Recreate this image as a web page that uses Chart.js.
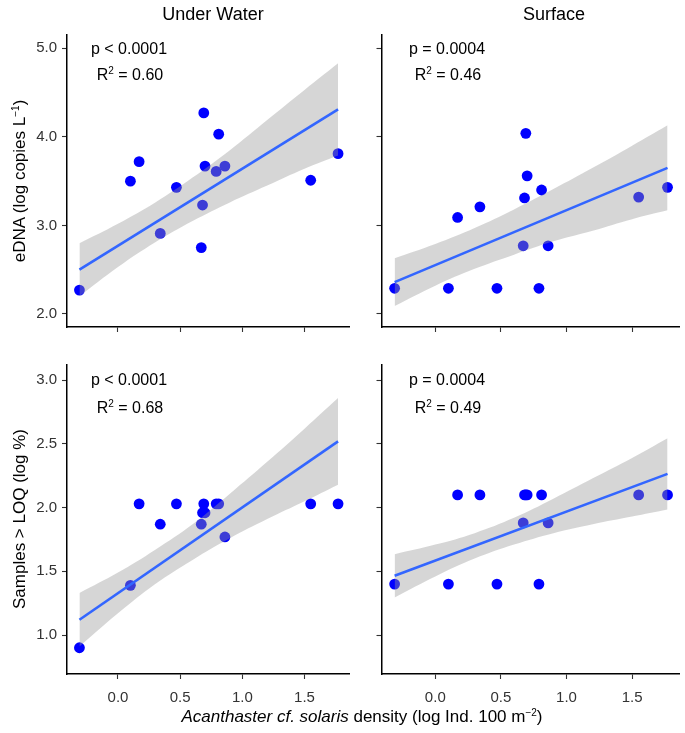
<!DOCTYPE html>
<html>
<head>
<meta charset="utf-8">
<script src="https://cdn.jsdelivr.net/npm/chart.js@4.4.1/dist/chart.umd.min.js"></script>
<style>
  body { margin: 0; background: #fff; }
  #page { position: relative; width: 685px; height: 733px; font-family: "Liberation Sans", Arial, sans-serif; color: #000; }
  #page canvas { position: absolute; left: 0; top: 0; }
  .txt { position: absolute; white-space: nowrap; line-height: 1; transform: translate(-50%, -50%); }
  .strip { font-size: 18px; }
  .stat { font-size: 16px; }
  .stat sup, .axis sup { font-size: 10px; vertical-align: 6px; }
  .axis { font-size: 17px; }
  .ylab { transform: translate(-50%, -50%) rotate(-90deg); }
</style>
</head>
<body>
<div id="page">
  <canvas id="panelTL" width="685" height="733"></canvas>
  <canvas id="panelTR" width="685" height="733"></canvas>
  <canvas id="panelBL" width="685" height="733"></canvas>
  <canvas id="panelBR" width="685" height="733"></canvas>

  <div class="txt strip" style="left:213px; top:14px;">Under Water</div>
  <div class="txt strip" style="left:554px; top:14px;">Surface</div>

  <div class="txt stat" style="left:129px; top:49px;">p &lt; 0.0001</div>
  <div class="txt stat" style="left:130px; top:74px;">R<sup>2</sup> = 0.60</div>
  <div class="txt stat" style="left:447px; top:49px;">p = 0.0004</div>
  <div class="txt stat" style="left:448px; top:74px;">R<sup>2</sup> = 0.46</div>
  <div class="txt stat" style="left:129px; top:380px;">p &lt; 0.0001</div>
  <div class="txt stat" style="left:130px; top:407px;">R<sup>2</sup> = 0.68</div>
  <div class="txt stat" style="left:447px; top:380px;">p = 0.0004</div>
  <div class="txt stat" style="left:448px; top:407px;">R<sup>2</sup> = 0.49</div>

  <div class="txt axis ylab" style="left:19px; top:181px;">eDNA (log copies L<sup>&minus;1</sup>)</div>
  <div class="txt axis ylab" style="left:19px; top:519px;">Samples &gt; LOQ (log %)</div>
  <div class="txt axis" style="left:362px; top:716px;"><i>Acanthaster cf. solaris</i> density (log Ind. 100 m<sup>&minus;2</sup>)</div>
</div>

<script>
// site densities (shared by all four panels)
const density = [-0.31, 0.10, 0.17, 0.34, 0.47, 0.67, 0.68, 0.69, 0.70, 0.79, 0.81, 0.86, 1.55, 1.77];

const ednaUnder = [2.27, 3.50, 3.72, 2.91, 3.43, 2.75, 3.23, 4.27, 3.67, 3.61, 4.03, 3.67, 3.51, 3.81];
const ednaSurface = [2.29, 2.29, 3.09, 3.21, 2.29, 2.77, 3.31, 4.04, 3.56, 2.29, 3.40, 2.77, 3.32, 3.43];
const loqUnder = [0.90, 1.39, 2.03, 1.87, 2.03, 1.87, 1.96, 2.03, 1.96, 2.03, 2.03, 1.77, 2.03, 2.03];
const loqSurface = [1.40, 1.40, 2.10, 2.10, 1.40, 1.88, 2.10, 2.10, 2.10, 1.40, 2.10, 1.88, 2.10, 2.10];

// regression line ends
const lineX = [-0.31, 1.77];
const ednaUnderFit = [2.50, 4.31];
const ednaSurfaceFit = [2.36, 3.65];
const loqUnderFit = [1.12, 2.52];
const loqSurfaceFit = [1.465, 2.265];

// confidence band edges read at these x positions
const bandX = [-0.31, 0.0, 0.3, 0.6, 0.9, 1.2, 1.5, 1.77];
const ednaUnderHi = [2.80, 3.02, 3.26, 3.54, 3.85, 4.19, 4.53, 4.83];
const ednaUnderLo = [2.20, 2.53, 2.81, 3.05, 3.26, 3.45, 3.64, 3.79];
const ednaSurfaceHi = [2.63, 2.79, 2.97, 3.18, 3.41, 3.65, 3.90, 4.13];
const ednaSurfaceLo = [2.09, 2.32, 2.51, 2.67, 2.82, 2.94, 3.07, 3.17];
const loqUnderHi = [1.33, 1.49, 1.67, 1.87, 2.11, 2.36, 2.62, 2.86];
const loqUnderLo = [0.91, 1.17, 1.40, 1.59, 1.76, 1.91, 2.05, 2.18];
const loqSurfaceHi = [1.635, 1.71, 1.80, 1.92, 2.07, 2.23, 2.39, 2.545];
const loqSurfaceLo = [1.295, 1.46, 1.60, 1.71, 1.80, 1.87, 1.93, 1.985];

const xTicks = [0, 0.5, 1, 1.5];
const ednaTicks = [2, 3, 4, 5];
const loqTicks = [1, 1.5, 2, 2.5, 3];

Chart.defaults.font.family = '"Liberation Sans", Arial, sans-serif';
Chart.defaults.font.size = 15;
Chart.defaults.color = '#333';

function pts(xs, ys) {
    return xs.map((x, i) => ({ x: x, y: ys[i] }));
}

function axisStyle(extra) {
    return Object.assign({
        type: 'linear',
        grid: { drawOnChartArea: false, drawTicks: true, tickLength: 5, tickColor: '#333', tickWidth: 1.1 },
        border: { display: true, color: '#000', width: 1.5 }
    }, extra);
}

function makePanel(id, box, p) {
    const yAxisW = box.yLabels ? 40 : 6;
    const xAxisH = box.xLabels ? 30 : 6;

    new Chart(document.getElementById(id), {
        type: 'line',
        data: {
            datasets: [
                {
                    data: pts(density, p.points),
                    showLine: false,
                    pointRadius: 5.4,
                    pointBackgroundColor: '#0000ff',
                    pointBorderWidth: 0,
                    order: 3
                },
                {
                    data: pts(bandX, p.hi),
                    borderWidth: 0,
                    pointRadius: 0,
                    tension: 0.4,
                    fill: false,
                    order: 2
                },
                {
                    data: pts(bandX, p.lo),
                    borderWidth: 0,
                    pointRadius: 0,
                    tension: 0.4,
                    fill: '-1',
                    backgroundColor: 'rgba(153, 153, 153, 0.4)',
                    order: 2
                },
                {
                    data: pts(lineX, p.fit),
                    borderColor: '#3366ff',
                    borderWidth: 2.6,
                    pointRadius: 0,
                    order: 1
                }
            ]
        },
        options: {
            responsive: false,
            animation: false,
            events: [],
            layout: {
                padding: {
                    left: box.left - yAxisW,
                    right: 685 - box.right,
                    top: box.top,
                    bottom: 733 - box.bottom - xAxisH
                }
            },
            plugins: { legend: { display: false }, tooltip: { enabled: false } },
            scales: {
                x: axisStyle({
                    min: -0.41,
                    max: 1.862,
                    afterFit: s => { s.height = xAxisH; },
                    afterBuildTicks: s => { s.ticks = xTicks.map(v => ({ value: v })); },
                    ticks: { display: box.xLabels, padding: 10, autoSkip: false, maxRotation: 0, callback: v => v.toFixed(1) }
                }),
                y: axisStyle({
                    min: p.yMin,
                    max: p.yMax,
                    afterFit: s => { s.width = yAxisW; },
                    afterBuildTicks: s => { s.ticks = p.ticks.map(v => ({ value: v })); },
                    ticks: { display: box.yLabels, padding: 5, autoSkip: false, callback: v => v.toFixed(1) }
                })
            }
        }
    });
}

const topRow = { yMin: 1.853, yMax: 5.15, ticks: ednaTicks };
const bottomRow = { yMin: 0.694, yMax: 3.12, ticks: loqTicks };

makePanel('panelTL', { left: 67, right: 349.5, top: 35, bottom: 327, yLabels: true, xLabels: false },
    Object.assign({ points: ednaUnder, fit: ednaUnderFit, hi: ednaUnderHi, lo: ednaUnderLo }, topRow));
makePanel('panelTR', { left: 381.5, right: 683, top: 35, bottom: 327, yLabels: false, xLabels: false },
    Object.assign({ points: ednaSurface, fit: ednaSurfaceFit, hi: ednaSurfaceHi, lo: ednaSurfaceLo }, topRow));
makePanel('panelBL', { left: 67, right: 349.5, top: 365, bottom: 674, yLabels: true, xLabels: true },
    Object.assign({ points: loqUnder, fit: loqUnderFit, hi: loqUnderHi, lo: loqUnderLo }, bottomRow));
makePanel('panelBR', { left: 381.5, right: 683, top: 365, bottom: 674, yLabels: false, xLabels: true },
    Object.assign({ points: loqSurface, fit: loqSurfaceFit, hi: loqSurfaceHi, lo: loqSurfaceLo }, bottomRow));
</script>
</body>
</html>
